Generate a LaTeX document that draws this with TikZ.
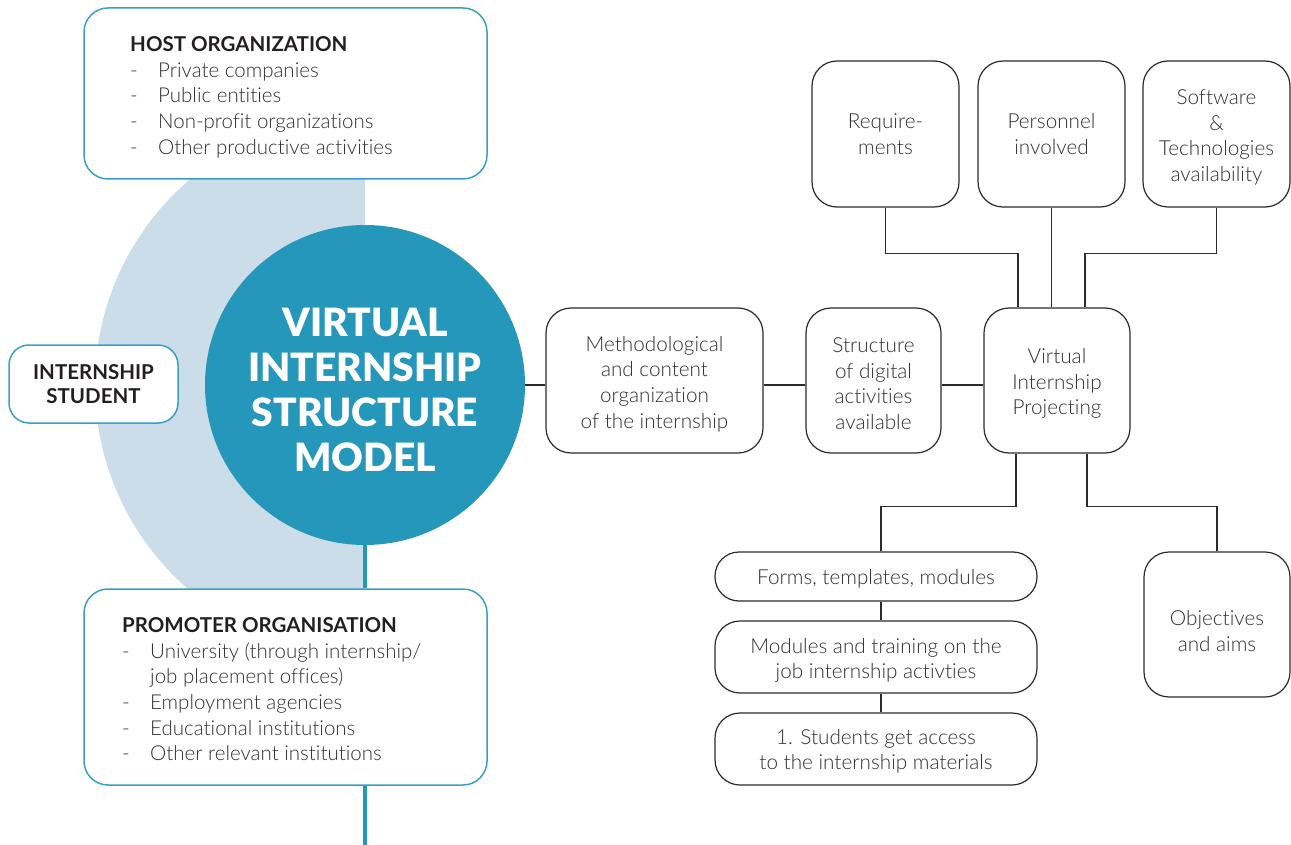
\documentclass[tikz,border=0pt]{standalone}
\usepackage{fontspec}
\setmainfont{Lato}[UprightFont={* Light}, BoldFont={* Bold}, Ligatures=NoCommon]
\newfontfamily\hubfont{Lato Black}[Ligatures=NoCommon]
\usetikzlibrary{calc}

\definecolor{tealline}{HTML}{3A9FC6}
\definecolor{tealfill}{HTML}{2597BA}
\definecolor{paleblue}{HTML}{CBDDE8}
\definecolor{ink}{HTML}{2B2B2B}
\definecolor{bodytext}{HTML}{303030}
\definecolor{headtext}{HTML}{231F20}

\newcommand{\itemdash}{\makebox[28pt][l]{-}}
\newcommand{\itemgap}{\hspace*{28pt}}
% zero-width strut on a first line: extra headroom pushes a box's text down
\newcommand{\headroom}[1]{\rule{0pt}{#1}}

\begin{document}
\begin{tikzpicture}[x=1pt,y=-1pt,
  tealbox/.style={draw=tealline, line width=1.5pt, rounded corners=24pt, fill=white, inner sep=0pt},
  flowbox/.style={draw=ink, line width=1.2pt, rounded corners=25pt, fill=white, inner sep=0pt,
    align=center, text=bodytext, font=\fontsize{20.7}{25.6}\selectfont},
  listtext/.style={inner sep=0pt, anchor=north west, align=left, text=bodytext,
    font=\fontsize{20.5}{25.6}\selectfont},
  link/.style={draw=ink, line width=1.2pt},
  spine/.style={draw=tealfill, line width=4.5pt}
]
\useasboundingbox (0,0) rectangle (1291,845);

% pale half disc behind the hub
\fill[paleblue] (365,115) arc[start angle=270, end angle=90, radius=270] -- cycle;

% lower end of the teal spine
\coordinate (tailend) at (365,845);

% hub
\node[circle, fill=tealfill, minimum size=320pt, inner sep=0pt, text=white, align=center,
  font=\fontsize{39}{45}\hubfont] (hub) at (365,385)
  {\headroom{38pt}VIRTUAL\\INTERNSHIP\\STRUCTURE\\MODEL};

% organisations
\node[tealbox, minimum width=403pt, minimum height=171pt] (host) at (285.5,93.5) {};
\node[listtext] (hosttext) at (130,36.5)
  {{\bfseries\color{headtext}HOST ORGANIZATION}\\
   \itemdash Private companies\\
   \itemdash Public entities\\
   \itemdash Non-profit organizations\\
   \itemdash Other productive activities};

\node[tealbox, minimum width=403pt, minimum height=196pt] (prom) at (285.5,687) {};
\node[listtext] (promtext) at (122,617.5)
  {{\bfseries\color{headtext}PROMOTER ORGANISATION}\\
   \itemdash University (through internship/\\
   \itemgap job placement offices)\\
   \itemdash Employment agencies\\
   \itemdash Educational institutions\\
   \itemdash Other relevant institutions};

\node[tealbox, rounded corners=20pt, minimum width=169pt, minimum height=78pt, align=center,
  text=headtext, font=\fontsize{20.5}{24}\selectfont\bfseries] (student) at (93.5,384)
  {INTERNSHIP\\STUDENT};

\draw[spine] (hub.south) -- (hub.south |- prom.north);
\draw[spine] (hub.south |- prom.south) -- (tailend);

% main chain
\node[flowbox, minimum width=217pt, minimum height=145pt] (meth) at (654.5,380.5)
  {\headroom{22pt}Methodological\\and content\\organization\\of the internship};
\node[flowbox, minimum width=135pt, minimum height=145pt] (digi) at (873.5,380.5)
  {\headroom{21.5pt}Structure\\of digital\\activities\\available};
\node[flowbox, minimum width=146pt, minimum height=145pt] (proj) at (1057,380.5)
  {\headroom{21.5pt}Virtual\\Internship\\Projecting};

% inputs above
\node[flowbox, minimum width=147pt, minimum height=146pt] (req) at (885.5,134)
  {Require-\\ments};
\node[flowbox, minimum width=147pt, minimum height=146pt] (pers) at (1051.5,134)
  {Personnel\\involved};
\node[flowbox, minimum width=147pt, minimum height=146pt] (soft) at (1216.5,134)
  {\headroom{21.5pt}Software\\\&\\Technologies\\availability};

% outputs below
\node[flowbox, minimum width=322pt, minimum height=49pt, rounded corners=24pt] (forms) at (876,576.5)
  {\headroom{19.5pt}Forms, templates, modules};
\node[flowbox, minimum width=322pt, minimum height=72pt] (mods) at (876,657)
  {\headroom{22pt}Modules and training on the\\job internship activties};
\node[flowbox, minimum width=322pt, minimum height=72pt] (stud) at (876,749)
  {\headroom{19.5pt}1. Students get access\\to the internship materials};
\node[flowbox, minimum width=146pt, minimum height=145pt] (obj) at (1217,624.5)
  {\headroom{28pt}Objectives\\and aims};

% connectors
\draw[link] (hub.east) -- (hub.east -| meth.west);
\draw[link] (meth.east |- hub.east) -- (digi.west |- hub.east);
\draw[link] (digi.east |- hub.east) -- (proj.west |- hub.east);

\draw[link] (req.south) -- ++(0,46) -| ([xshift=-39pt]proj.north);
\draw[link] (pers.south) -- (pers.south |- proj.north);
\draw[link] (soft.south) -- ++(0,46) -| ([xshift=28pt]proj.north);

\draw[link] ([xshift=-41pt]proj.south) -- ++(0,53) -| ([xshift=5pt]forms.north);
\draw[link] ([xshift=30pt]proj.south) -- ++(0,53) -| (obj.north);
\draw[link] ([xshift=5pt]forms.south) -- ([xshift=5pt]mods.north);
\draw[link] ([xshift=5pt]mods.south) -- ([xshift=5pt]stud.north);
\end{tikzpicture}
\end{document}
